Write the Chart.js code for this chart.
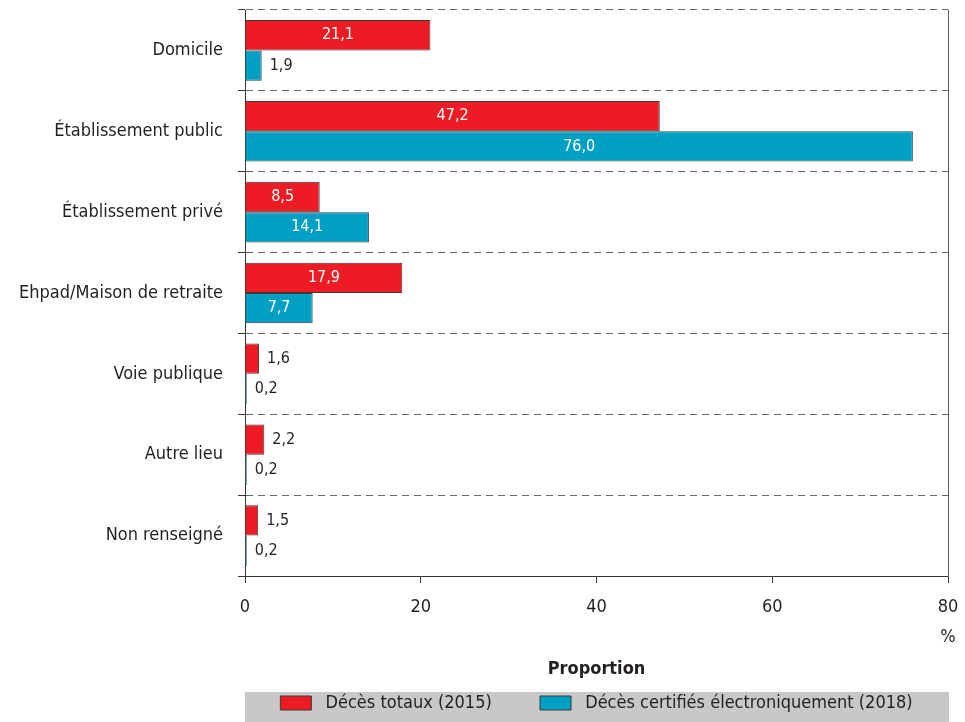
<!DOCTYPE html>
<html>
<head>
<meta charset="utf-8">
<script src="https://cdn.jsdelivr.net/npm/chart.js@4"></script>
<style>
  html, body { margin: 0; padding: 0; background: #fff; }
  #wrap { width: 965px; height: 722px; }
</style>
</head>
<body>
<div id="wrap"><canvas id="chart"></canvas></div>
<script>
const lieux = ['Domicile', 'Établissement public', 'Établissement privé', 'Ehpad/Maison de retraite', 'Voie publique', 'Autre lieu', 'Non renseigné']
const totaux2015 = [21.1, 47.2, 8.5, 17.9, 1.6, 2.2, 1.5]
const certifies2018 = [1.9, 76.0, 14.1, 7.7, 0.2, 0.2, 0.2]
const xTicks = [0, 20, 40, 60, 80]

const FONT = '"Liberation Sans Narrow", "DejaVu Sans Condensed", "Liberation Sans", sans-serif'
const TEXT = '#231f20'

const fmt = v => v.toFixed(1).replace('.', ',')

const valueLabels = {
  id: 'valueLabels',
  afterDatasetsDraw(chart) {
    const ctx = chart.ctx
    ctx.save()
    ctx.font = '16px ' + FONT
    ctx.textBaseline = 'middle'
    chart.data.datasets.forEach((ds, i) => {
      chart.getDatasetMeta(i).data.forEach((bar, j) => {
        const v = ds.data[j]
        if (v > 5) {
          ctx.fillStyle = '#fff'
          ctx.textAlign = 'center'
          ctx.fillText(fmt(v), (bar.x + bar.base) / 2, bar.y)
        } else {
          ctx.fillStyle = TEXT
          ctx.textAlign = 'left'
          ctx.fillText(fmt(v), bar.x + 8, bar.y)
        }
      })
    })
    ctx.restore()
  }
}

const legendBg = {
  id: 'legendBg',
  beforeDraw(chart) {
    const l = chart.legend
    if (!l) return
    const ctx = chart.ctx
    ctx.save()
    ctx.fillStyle = '#c8c8c8'
    ctx.fillRect(l.left, l.top, l.width + 1, l.height)
    ctx.restore()
  }
}

new Chart(document.getElementById('chart'), {
  type: 'bar',
  data: {
    labels: lieux,
    datasets: [
      {
        label: 'Décès totaux (2015)',
        data: totaux2015,
        backgroundColor: '#ed1c24',
        borderColor: '#3a3a3a',
        borderWidth: 1,
      },
      {
        label: 'Décès certifiés électroniquement (2018)',
        data: certifies2018,
        backgroundColor: '#00a0c4',
        borderColor: '#3a3a3a',
        borderWidth: 1,
      },
    ],
  },
  options: {
    indexAxis: 'y',
    responsive: true,
    maintainAspectRatio: false,
    animation: false,
    datasets: { bar: { categoryPercentage: 0.75, barPercentage: 1 } },
    layout: { padding: { top: 10, right: 17, left: 0, bottom: 0 } },
    scales: {
      x: {
        min: 0,
        max: 80,
        afterBuildTicks: s => { s.ticks = xTicks.map(v => ({ value: v })) },
        afterFit: s => { s.height = 116; s.paddingLeft = 0; s.paddingRight = 0 },
        border: { color: '#333', width: 1 },
        grid: { drawOnChartArea: false, drawTicks: true, tickLength: 7, color: '#333' },
        ticks: {
          padding: 9,
          color: TEXT,
          font: { family: FONT, size: 18, lineHeight: 1.67 },
          maxRotation: 0,
          callback: v => (v === 80 ? ['80', '%'] : String(v)),
        },
        title: {
          display: true,
          text: 'Proportion',
          color: TEXT,
          font: { family: FONT, size: 18, weight: 'bold' },
          padding: { top: 0, bottom: 12 },
        },
      },
      y: {
        afterFit: s => { s.width = 245; s.paddingTop = 0; s.paddingBottom = 0 },
        border: { color: '#333', width: 1, dash: [7, 5] },
        grid: {
          offset: true,
          color: '#666',
          drawTicks: true,
          tickLength: 7,
          tickColor: '#333',
          tickBorderDash: [],
        },
        ticks: {
          padding: 15,
          color: TEXT,
          font: { family: FONT, size: 18 },
        },
      },
      yRight: {
        type: 'category',
        labels: lieux,
        position: 'right',
        afterFit: s => { s.width = 0; s.paddingTop = 0; s.paddingBottom = 0 },
        border: { color: '#555', width: 1 },
        grid: { display: false, drawTicks: false },
        ticks: { display: false },
      },
    },
    plugins: {
      legend: {
        position: 'bottom',
        fullSize: false,
        labels: {
          color: TEXT,
          font: { family: FONT, size: 18, lineHeight: 1.1 },
          boxWidth: 31,
          boxHeight: 14,
          padding: 2,
          generateLabels: chart => {
            const items = Chart.defaults.plugins.legend.labels.generateLabels(chart)
            items.forEach((it, i) => {
              it.text = ' ' + it.text
              if (i < items.length - 1) it.text += '         '
            })
            return items
          },
        },
      },
      tooltip: { enabled: false },
    },
  },
  plugins: [valueLabels, legendBg],
})
</script>
</body>
</html>
